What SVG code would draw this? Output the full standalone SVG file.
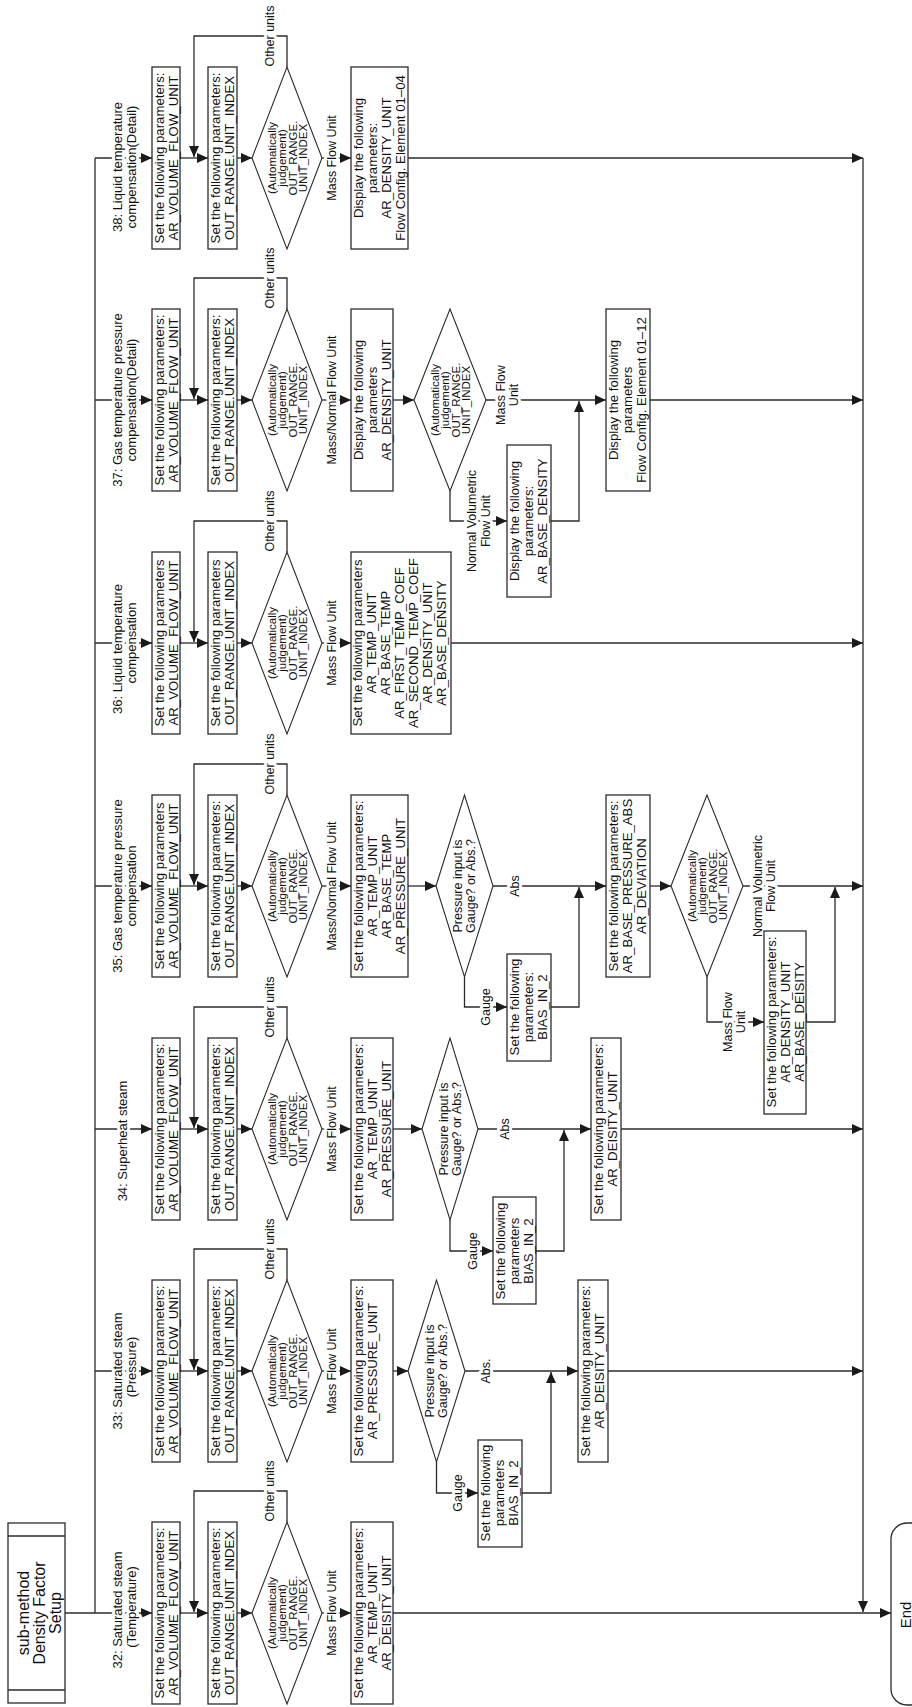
<svg xmlns="http://www.w3.org/2000/svg" width="912" height="1707" viewBox="0 0 912 1707">
<defs>
<marker id="ah" viewBox="0 0 11 10" refX="11" refY="5" markerWidth="11" markerHeight="10" markerUnits="userSpaceOnUse" orient="auto"><path d="M0,0 L11,5 L0,10 z" fill="#1a1a1a"/></marker>
<style>
.ln{fill:none;stroke:#2b2b2b;stroke-width:1.3}
.ar{marker-end:url(#ah)}
.bx{fill:#fff;stroke:#2b2b2b;stroke-width:1.3}
.dm{fill:#fff;stroke:#2b2b2b;stroke-width:1.1}
text{font-family:"Liberation Sans",Arial,sans-serif;fill:#111}
.t{font-size:13.2px;text-anchor:middle}
.td{font-size:11.5px;text-anchor:middle}
.tp{font-size:12.5px;text-anchor:middle}
.lb{font-size:12.5px;text-anchor:middle;paint-order:stroke;stroke:#fff;stroke-width:6px;stroke-linejoin:round}
.br{font-size:13px;text-anchor:middle;paint-order:stroke;stroke:#fff;stroke-width:6px;stroke-linejoin:round}
</style>
</defs>
<rect width="912" height="1707" fill="#fff"/>
<g transform="translate(0,1707) rotate(-90)">

<g id="connectors">
<path class="ln" d="M94,95 H1549"/>
<path class="ln ar" d="M94,65 V152"/>
<path class="ln ar" d="M336,95 V152"/>
<path class="ln ar" d="M578,95 V152"/>
<path class="ln ar" d="M821,95 V152"/>
<path class="ln ar" d="M1064,95 V152"/>
<path class="ln ar" d="M1307,95 V152"/>
<path class="ln ar" d="M1549,95 V152"/>
<path class="ln ar" d="M94,180 V208"/><path class="ln ar" d="M94,237 V252"/><path class="ln ar" d="M185,287 H216 V194 H95"/><path class="ln ar" d="M94,322 V351"/>
<path class="ln ar" d="M336,180 V208"/><path class="ln ar" d="M336,237 V252"/><path class="ln ar" d="M427,287 H458 V194 H337"/><path class="ln ar" d="M336,322 V351"/>
<path class="ln ar" d="M578,180 V208"/><path class="ln ar" d="M578,237 V252"/><path class="ln ar" d="M669,287 H700 V194 H579"/><path class="ln ar" d="M578,322 V351"/>
<path class="ln ar" d="M821,180 V208"/><path class="ln ar" d="M821,237 V252"/><path class="ln ar" d="M912,287 H943 V194 H822"/><path class="ln ar" d="M821,322 V351"/>
<path class="ln ar" d="M1064,180 V208"/><path class="ln ar" d="M1064,237 V252"/><path class="ln ar" d="M1155,287 H1186 V194 H1065"/><path class="ln ar" d="M1064,322 V351"/>
<path class="ln ar" d="M1307,180 V208"/><path class="ln ar" d="M1307,237 V252"/><path class="ln ar" d="M1398,287 H1429 V194 H1308"/><path class="ln ar" d="M1307,322 V351"/>
<path class="ln ar" d="M1549,180 V208"/><path class="ln ar" d="M1549,237 V252"/><path class="ln ar" d="M1640,287 H1671 V194 H1550"/><path class="ln ar" d="M1549,322 V351"/>
<path class="ln ar" d="M94,393 V891"/>
<path class="ln ar" d="M336,393 V408"/>
<path class="ln ar" d="M245,436.5 H214 V478"/>
<path class="ln ar" d="M214,522 V551 H335"/>
<path class="ln ar" d="M336,465 V578"/>
<path class="ln ar" d="M336,608 V863"/>
<path class="ln ar" d="M578,393 V422"/>
<path class="ln ar" d="M487,450 H456 V493"/>
<path class="ln ar" d="M456,536 V564 H577"/>
<path class="ln ar" d="M578,478 V591"/>
<path class="ln ar" d="M578,621 V863"/>
<path class="ln ar" d="M821,408 V436"/>
<path class="ln ar" d="M730,464.5 H700 V507"/>
<path class="ln ar" d="M700,551 V579 H820"/>
<path class="ln ar" d="M821,493 V606"/>
<path class="ln ar" d="M821,650 V671"/>
<path class="ln ar" d="M730,707 H685 V764"/>
<path class="ln ar" d="M685,806 V835 H820"/>
<path class="ln ar" d="M821,743 V863"/>
<path class="ln ar" d="M1064,451 V863"/>
<path class="ln ar" d="M1307,393 V414"/>
<path class="ln ar" d="M1216,450 H1186 V507"/>
<path class="ln ar" d="M1186,551 V579 H1306"/>
<path class="ln ar" d="M1307,486 V606"/>
<path class="ln ar" d="M1307,650 V863"/>
<path class="ln ar" d="M1549,408 V863"/>
<path class="ln ar" d="M1549,863 H95"/>
</g>

<g id="labels">
<text class="br"><tspan x="97" y="122">32: Saturated steam</tspan><tspan x="100" y="136">(Temperature)</tspan></text>
<text class="br"><tspan x="336" y="122">33: Saturated steam</tspan><tspan x="340" y="136">(Pressure)</tspan></text>
<text class="br"><tspan x="566" y="127">34: Superheat steam</tspan></text>
<text class="br"><tspan x="821" y="122">35: Gas temperature pressure</tspan><tspan x="821" y="136">compensation</tspan></text>
<text class="br"><tspan x="1058" y="122">36: Liquid temperature</tspan><tspan x="1064" y="136">compensation</tspan></text>
<text class="br"><tspan x="1307" y="122">37: Gas temperature pressure</tspan><tspan x="1307" y="136">compensation(Detail)</tspan></text>
<text class="br"><tspan x="1540" y="122">38: Liquid temperature</tspan><tspan x="1540" y="136">compensation(Detail)</tspan></text>
<text class="lb" x="216" y="274">Other units</text>
<text class="lb" x="458" y="274">Other units</text>
<text class="lb" x="700" y="274">Other units</text>
<text class="lb" x="943" y="274">Other units</text>
<text class="lb" x="1186" y="274">Other units</text>
<text class="lb" x="1429" y="274">Other units</text>
<text class="lb" x="1671" y="274">Other units</text>
<text class="lb" x="94" y="336">Mass Flow Unit</text>
<text class="lb" x="336" y="336">Mass Flow Unit</text>
<text class="lb" x="578" y="336">Mass Flow Unit</text>
<text class="lb" x="821" y="336">Mass/Normal Flow Unit</text>
<text class="lb" x="1064" y="336">Mass Flow Unit</text>
<text class="lb" x="1307" y="336">Mass/Normal Flow Unit</text>
<text class="lb" x="1549" y="336">Mass Flow Unit</text>
<text class="lb" x="214" y="462">Gauge</text>
<text class="lb" x="456" y="477">Gauge</text>
<text class="lb" x="700" y="490">Gauge</text>
<text class="lb" x="336" y="490">Abs.</text>
<text class="lb" x="578" y="509">Abs</text>
<text class="lb" x="821" y="519">Abs</text>
<text class="lb"><tspan x="685" y="732">Mass Flow</tspan><tspan x="685" y="745">Unit</tspan></text>
<text class="lb"><tspan x="821" y="762">Normal Volumetric</tspan><tspan x="821" y="775">Flow Unit</tspan></text>
<text class="lb"><tspan x="1186" y="476">Normal Volumetric</tspan><tspan x="1186" y="490">Flow Unit</tspan></text>
<text class="lb"><tspan x="1312" y="505">Mass Flow</tspan><tspan x="1312" y="518">Unit</tspan></text>
</g>

<g id="start">
<rect class="bx" x="4" y="8" width="180" height="57"/>
<path class="ln" d="M17,8 V65 M171,8 V65"/>
<text style="font-size:16px;text-anchor:middle"><tspan x="94" y="29">sub-method</tspan><tspan x="94" y="45">Density Factor</tspan><tspan x="94" y="61">Setup</tspan></text>
</g>

<g id="end">
<rect class="bx" x="2" y="891" width="182" height="60" rx="16"/>
<text style="font-size:15px;text-anchor:middle" x="92" y="911">End</text>
</g>

<g id="b32">
<rect class="bx" x="3" y="152" width="182" height="28"/>
<text class="t"><tspan x="94" y="163.5">Set the following parameters:</tspan><tspan x="94" y="177.5">AR_VOLUME_FLOW_UNIT</tspan></text>
<rect class="bx" x="3" y="208" width="182" height="29"/>
<text class="t"><tspan x="94" y="219.5">Set the following parameters:</tspan><tspan x="94" y="233.5">OUT_RANGE.UNIT_INDEX</tspan></text>
<polygon class="dm" points="94,252 185,287 94,322 3,287"/>
<text class="td"><tspan x="94" y="275.5">(Automatically</tspan><tspan x="94" y="286">judgement)</tspan><tspan x="94" y="296.5">OUT_RANGE.</tspan><tspan x="94" y="307">UNIT_INDEX</tspan></text>
<rect class="bx" x="3" y="351" width="182" height="42"/>
<text class="t"><tspan x="94" y="362.5">Set the following parameters:</tspan><tspan x="94" y="376.5">AR_TEMP_UNIT</tspan><tspan x="94" y="390.5">AR_DEISITY_UNIT</tspan></text>
</g>

<g id="b33">
<rect class="bx" x="245" y="152" width="182" height="28"/>
<text class="t"><tspan x="336" y="163.5">Set the following parameters:</tspan><tspan x="336" y="177.5">AR_VOLUME_FLOW_UNIT</tspan></text>
<rect class="bx" x="245" y="208" width="182" height="29"/>
<text class="t"><tspan x="336" y="219.5">Set the following parameters:</tspan><tspan x="336" y="233.5">OUT_RANGE.UNIT_INDEX</tspan></text>
<polygon class="dm" points="336,252 427,287 336,322 245,287"/>
<text class="td"><tspan x="336" y="275.5">(Automatically</tspan><tspan x="336" y="286">judgement)</tspan><tspan x="336" y="296.5">OUT_RANGE.</tspan><tspan x="336" y="307">UNIT_INDEX</tspan></text>
<rect class="bx" x="245" y="351" width="182" height="42"/>
<text class="t"><tspan x="336" y="362.5">Set the following parameters:</tspan><tspan x="336" y="376.5">AR_PRESSURE_UNIT</tspan></text>
<polygon class="dm" points="336,408 427,436.5 336,465 245,436.5"/>
<text class="tp"><tspan x="336" y="434">Pressure input is</tspan><tspan x="336" y="447">Gauge? or Abs.?</tspan></text>
<rect class="bx" x="160" y="478" width="107" height="44"/>
<text class="t"><tspan x="214" y="490">Set the following</tspan><tspan x="214" y="504">parameters</tspan><tspan x="214" y="518">BIAS_IN_2</tspan></text>
<rect class="bx" x="245" y="578" width="182" height="30"/>
<text class="t"><tspan x="336" y="590">Set the following parameters:</tspan><tspan x="336" y="604">AR_DEISITY_UNIT</tspan></text>
</g>

<g id="b34">
<rect class="bx" x="487" y="152" width="182" height="28"/>
<text class="t"><tspan x="578" y="163.5">Set the following parameters:</tspan><tspan x="578" y="177.5">AR_VOLUME_FLOW_UNIT</tspan></text>
<rect class="bx" x="487" y="208" width="182" height="29"/>
<text class="t"><tspan x="578" y="219.5">Set the following parameters:</tspan><tspan x="578" y="233.5">OUT_RANGE.UNIT_INDEX</tspan></text>
<polygon class="dm" points="578,252 669,287 578,322 487,287"/>
<text class="td"><tspan x="578" y="275.5">(Automatically</tspan><tspan x="578" y="286">judgement)</tspan><tspan x="578" y="296.5">OUT_RANGE.</tspan><tspan x="578" y="307">UNIT_INDEX</tspan></text>
<rect class="bx" x="487" y="351" width="182" height="42"/>
<text class="t"><tspan x="578" y="362.5">Set the following parameters:</tspan><tspan x="578" y="376.5">AR_TEMP_UNIT</tspan><tspan x="578" y="390.5">AR_PRESSURE_UNIT</tspan></text>
<polygon class="dm" points="578,422 669,450 578,478 487,450"/>
<text class="tp"><tspan x="578" y="447.5">Pressure input is</tspan><tspan x="578" y="460.5">Gauge? or Abs.?</tspan></text>
<rect class="bx" x="403" y="493" width="107" height="43"/>
<text class="t"><tspan x="456" y="505">Set the following</tspan><tspan x="456" y="519">parameters</tspan><tspan x="456" y="533">BIAS_IN_2</tspan></text>
<rect class="bx" x="487" y="591" width="182" height="30"/>
<text class="t"><tspan x="578" y="603">Set the following parameters:</tspan><tspan x="578" y="617">AR_DEISITY_UNIT</tspan></text>
</g>

<g id="b35">
<rect class="bx" x="730" y="152" width="182" height="28"/>
<text class="t"><tspan x="821" y="163.5">Set the following parameters</tspan><tspan x="821" y="177.5">AR_VOLUME_FLOW_UNIT</tspan></text>
<rect class="bx" x="730" y="208" width="182" height="29"/>
<text class="t"><tspan x="821" y="219.5">Set the following parameters:</tspan><tspan x="821" y="233.5">OUT_RANGE.UNIT_INDEX</tspan></text>
<polygon class="dm" points="821,252 912,287 821,322 730,287"/>
<text class="td"><tspan x="821" y="275.5">(Automatically</tspan><tspan x="821" y="286">judgement)</tspan><tspan x="821" y="296.5">OUT_RANGE.</tspan><tspan x="821" y="307">UNIT_INDEX</tspan></text>
<rect class="bx" x="730" y="351" width="182" height="57"/>
<text class="t"><tspan x="821" y="363">Set the following parameters:</tspan><tspan x="821" y="377">AR_TEMP_UNIT</tspan><tspan x="821" y="391">AR_BASE_TEMP</tspan><tspan x="821" y="405">AR_PRESSURE_UNIT</tspan></text>
<polygon class="dm" points="821,436 912,464.5 821,493 730,464.5"/>
<text class="tp"><tspan x="821" y="462">Pressure input is</tspan><tspan x="821" y="475">Gauge? or Abs.?</tspan></text>
<rect class="bx" x="646" y="507" width="107" height="44"/>
<text class="t"><tspan x="700" y="519">Set the following</tspan><tspan x="700" y="533">parameters:</tspan><tspan x="700" y="547">BIAS_IN_2</tspan></text>
<rect class="bx" x="730" y="606" width="182" height="44"/>
<text class="t"><tspan x="821" y="618">Set the following parameters:</tspan><tspan x="821" y="632">AR_BASE_PRESSURE_ABS</tspan><tspan x="821" y="646">AR_DEVIATION</tspan></text>
<polygon class="dm" points="821,671 912,707 821,743 730,707"/>
<text class="td"><tspan x="821" y="695.5">(Automatically</tspan><tspan x="821" y="706">judgement)</tspan><tspan x="821" y="716.5">OUT_RANGE.</tspan><tspan x="821" y="727">UNIT_INDEX</tspan></text>
<rect class="bx" x="593" y="764" width="183" height="42"/>
<text class="t"><tspan x="685" y="775.5">Set the following parameters:</tspan><tspan x="685" y="789.5">AR_DENSITY_UNIT</tspan><tspan x="685" y="803.5">AR_BASE_DEISITY</tspan></text>
</g>

<g id="b36">
<rect class="bx" x="973" y="152" width="182" height="28"/>
<text class="t"><tspan x="1064" y="163.5">Set the following parameters</tspan><tspan x="1064" y="177.5">AR_VOLUME_FLOW_UNIT</tspan></text>
<rect class="bx" x="973" y="208" width="182" height="29"/>
<text class="t"><tspan x="1064" y="219.5">Set the following parameters</tspan><tspan x="1064" y="233.5">OUT_RANGE.UNIT_INDEX</tspan></text>
<polygon class="dm" points="1064,252 1155,287 1064,322 973,287"/>
<text class="td"><tspan x="1064" y="275.5">(Automatically</tspan><tspan x="1064" y="286">judgement)</tspan><tspan x="1064" y="296.5">OUT_RANGE.</tspan><tspan x="1064" y="307">UNIT_INDEX</tspan></text>
<rect class="bx" x="973" y="351" width="182" height="100"/>
<text class="t"><tspan x="1064" y="361.5">Set the following parameters</tspan><tspan x="1064" y="375.5">AR_TEMP_UNIT</tspan><tspan x="1064" y="389.5">AR_BASE_TEMP</tspan><tspan x="1064" y="403.5">AR_FIRST_TEMP_COEF</tspan><tspan x="1064" y="417.5">AR_SECOND_TEMP_COEF</tspan><tspan x="1064" y="432">AR_DENSITY_UNIT</tspan><tspan x="1064" y="446">AR_BASE_DENSITY</tspan></text>
</g>

<g id="b37">
<rect class="bx" x="1216" y="152" width="182" height="28"/>
<text class="t"><tspan x="1307" y="163.5">Set the following parameters:</tspan><tspan x="1307" y="177.5">AR_VOLUME_FLOW_UNIT</tspan></text>
<rect class="bx" x="1216" y="208" width="182" height="29"/>
<text class="t"><tspan x="1307" y="219.5">Set the following parameters:</tspan><tspan x="1307" y="233.5">OUT_RANGE.UNIT_INDEX</tspan></text>
<polygon class="dm" points="1307,252 1398,287 1307,322 1216,287"/>
<text class="td"><tspan x="1307" y="275.5">(Automatically</tspan><tspan x="1307" y="286">judgement)</tspan><tspan x="1307" y="296.5">OUT_RANGE.</tspan><tspan x="1307" y="307">UNIT_INDEX</tspan></text>
<rect class="bx" x="1216" y="351" width="182" height="42"/>
<text class="t"><tspan x="1307" y="362.5">Display the following</tspan><tspan x="1307" y="376.5">parameters</tspan><tspan x="1307" y="390.5">AR_DENSITY_UNIT</tspan></text>
<polygon class="dm" points="1307,414 1398,450 1307,486 1216,450"/>
<text class="td"><tspan x="1307" y="438.5">(Automatically</tspan><tspan x="1307" y="449">judgement)</tspan><tspan x="1307" y="459.5">OUT_RANGE.</tspan><tspan x="1307" y="470">UNIT_INDEX</tspan></text>
<rect class="bx" x="1110" y="507" width="152" height="44"/>
<text class="t"><tspan x="1186" y="519">Display the following</tspan><tspan x="1186" y="533">parameters:</tspan><tspan x="1186" y="547">AR_BASE_DENSITY</tspan></text>
<rect class="bx" x="1216" y="606" width="182" height="44"/>
<text class="t"><tspan x="1307" y="618">Display the following</tspan><tspan x="1307" y="632">parameters</tspan><tspan x="1307" y="646">Flow Config. Element 01–12</tspan></text>
</g>

<g id="b38">
<rect class="bx" x="1458" y="152" width="182" height="28"/>
<text class="t"><tspan x="1549" y="163.5">Set the following parameters:</tspan><tspan x="1549" y="177.5">AR_VOLUME_FLOW_UNIT</tspan></text>
<rect class="bx" x="1458" y="208" width="182" height="29"/>
<text class="t"><tspan x="1549" y="219.5">Set the following parameters:</tspan><tspan x="1549" y="233.5">OUT_RANGE.UNIT_INDEX</tspan></text>
<polygon class="dm" points="1549,252 1640,287 1549,322 1458,287"/>
<text class="td"><tspan x="1549" y="275.5">(Automatically</tspan><tspan x="1549" y="286">judgement)</tspan><tspan x="1549" y="296.5">OUT_RANGE.</tspan><tspan x="1549" y="307">UNIT_INDEX</tspan></text>
<rect class="bx" x="1458" y="351" width="182" height="57"/>
<text class="t"><tspan x="1549" y="363">Display the following</tspan><tspan x="1549" y="377">parameters:</tspan><tspan x="1549" y="391">AR_DENSITY_UNIT</tspan><tspan x="1549" y="405">Flow Config. Element 01–04</tspan></text>
</g>

</g>
</svg>
